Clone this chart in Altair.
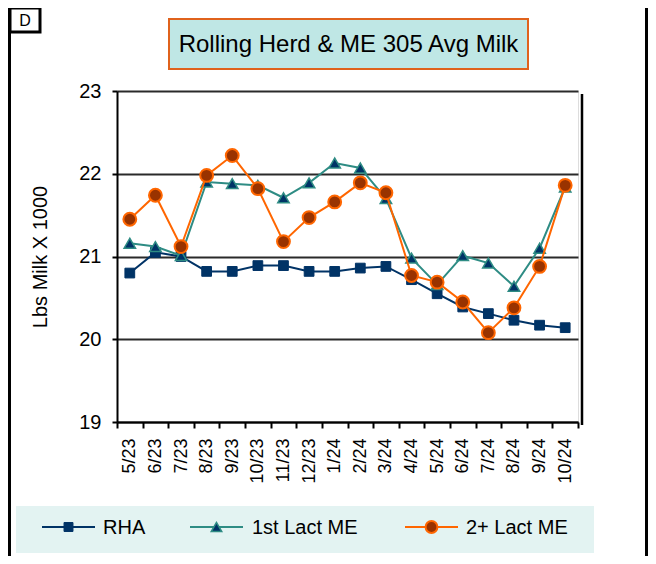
import altair as alt
import pandas as pd

months = ["5/23", "6/23", "7/23", "8/23", "9/23", "10/23", "11/23", "12/23", "1/24",
          "2/24", "3/24", "4/24", "5/24", "6/24", "7/24", "8/24", "9/24", "10/24"]
rha = [20.80, 21.05, 21.00, 20.82, 20.82, 20.89, 20.89, 20.82, 20.82,
       20.86, 20.88, 20.72, 20.55, 20.39, 20.31, 20.23, 20.17, 20.14]
lact1 = [21.16, 21.12, 21.01, 21.90, 21.88, 21.86, 21.71, 21.89, 22.13,
         22.07, 21.70, 20.98, 20.66, 21.01, 20.92, 20.64, 21.10, 21.84]
lact2 = [21.45, 21.74, 21.12, 21.98, 22.22, 21.82, 21.18, 21.47, 21.66,
         21.89, 21.77, 20.77, 20.69, 20.45, 20.08, 20.38, 20.88, 21.86]
series_names = ["RHA", "1st Lact ME", "2+ Lact ME"]
y_ticks = [19, 20, 21, 22, 23]
title_text = "Rolling Herd & ME 305 Avg Milk"
y_title = "Lbs Milk X 1000"
panel_tag = "D"

FONT = "Liberation Sans"
NAVY = "#003366"
TEAL = "#2E8C84"
ORANGE = "#FF6600"
BROWN = "#993300"

rows = []
for name, vals in zip(series_names, [rha, lact1, lact2]):
    for m, v in zip(months, vals):
        rows.append({"month": m, "value": v, "series": name})
df = pd.DataFrame(rows)

W, H = 461, 331

x_enc = alt.X("month:N", sort=months, bandPosition=0.5,
              scale=alt.Scale(type="band", domain=months, paddingInner=0, paddingOuter=0),
              axis=alt.Axis(title=None, labelAngle=270, labelFontSize=18, labelFont=FONT,
                            labelColor="black", labelAlign="right", labelBaseline="middle",
                            tickBand="extent", grid=False, domainColor="black", domainWidth=2,
                            tickColor="black", tickSize=6, tickWidth=2, labelPadding=10))
y_enc = alt.Y("value:Q", scale=alt.Scale(domain=[19, 23], nice=False, zero=False),
              axis=alt.Axis(values=y_ticks, grid=True, gridColor="#2a2a2a", gridWidth=2,
                            domainColor="black", domainWidth=2, tickColor="black",
                            tickSize=5, tickWidth=2, labelFontSize=20, labelFont=FONT,
                            labelColor="black", labelPadding=11, title=y_title,
                            titleFontSize=20, titleFont=FONT, titleFontWeight="normal",
                            titleColor="black", titleX=-77, titleY=H / 2, titleAngle=270,
                            titleAlign="center", titleBaseline="middle"))


def one():
    return alt.Data(values=[{}])


def box(x1, x2, y1, y2, fill, stroke=None, sw=0):
    kw = dict(fill=fill)
    if stroke:
        kw.update(stroke=stroke, strokeWidth=sw)
    return alt.Chart(one()).mark_rect(**kw).encode(
        x=alt.value(x1), x2=alt.value(x2), y=alt.value(y1), y2=alt.value(y2))


def vline(x, y1, y2, color, sw):
    return alt.Chart(one()).mark_rule(color=color, strokeWidth=sw).encode(
        x=alt.value(x), y=alt.value(y1), y2=alt.value(y2))


def hline(x1, x2, y, color, sw):
    return alt.Chart(one()).mark_rule(color=color, strokeWidth=sw).encode(
        x=alt.value(x1), x2=alt.value(x2), y=alt.value(y))


def label(txt, x, y, size, align="left"):
    return alt.Chart(one()).mark_text(text=txt, font=FONT, fontSize=size, color="black",
                                      align=align, baseline="middle").encode(
        x=alt.value(x), y=alt.value(y))


def sym(x, y, shape, fill, stroke, size, sw):
    return alt.Chart(one()).mark_point(shape=shape, filled=True, fill=fill, stroke=stroke,
                                       strokeWidth=sw, size=size, opacity=1).encode(
        x=alt.value(x), y=alt.value(y))


deco = [
    vline(-107.5, -83, 465, "black", 3),
    vline(529.5, -83, 465, "black", 3),
    box(-107, -77, -83, -59, "white", "black", 3),
    label(panel_tag, -92, -70, 16, "center"),
    box(52, 411, -72, -22, "#BFE7E5", "#E0621C", 2),
    label(title_text, 231.5, -46, 24, "center"),
    box(-101, 477, 415, 462, "#E3F3F2"),
    hline(-75, -22, 436, NAVY, 2),
    sym(-48.5, 436, "square", NAVY, NAVY, 80, 1),
    label(series_names[0], -14, 437, 20),
    hline(73, 126, 436, TEAL, 2),
    sym(99.5, 436, "triangle-up", NAVY, TEAL, 110, 1.5),
    label(series_names[1], 135, 437, 20),
    hline(288, 341, 436, ORANGE, 2),
    sym(314.5, 436, "circle", BROWN, ORANGE, 140, 2),
    label(series_names[2], 349, 437, 20),
    vline(465, 3, 334, "black", 2.5),
]

base = alt.Chart(df)
data_layers = []
styles = [
    ("RHA", NAVY, NAVY, "square", 95, 1),
    ("1st Lact ME", TEAL, NAVY, "triangle-up", 130, 1.5),
    ("2+ Lact ME", ORANGE, BROWN, "circle", 165, 2),
]
for name, lc, fc, shp, sz, sw in styles:
    sub = base.transform_filter(alt.datum.series == name)
    data_layers.append(sub.mark_line(color=lc, strokeWidth=2).encode(x=x_enc, y=y_enc))
    data_layers.append(sub.mark_point(shape=shp, filled=True, fill=fc, stroke=lc,
                                      strokeWidth=sw, size=sz, opacity=1).encode(x=x_enc, y=y_enc))

chart = alt.layer(*deco, *data_layers).properties(
    width=W, height=H,
    padding={"left": 109, "top": 83, "right": 70, "bottom": 134},
    autosize=alt.AutoSizeParams(type="none"),
    background="white",
).configure_view(stroke=None).configure(font=FONT)

chart.save("out.html", embed_options={"renderer": "svg", "actions": False})
